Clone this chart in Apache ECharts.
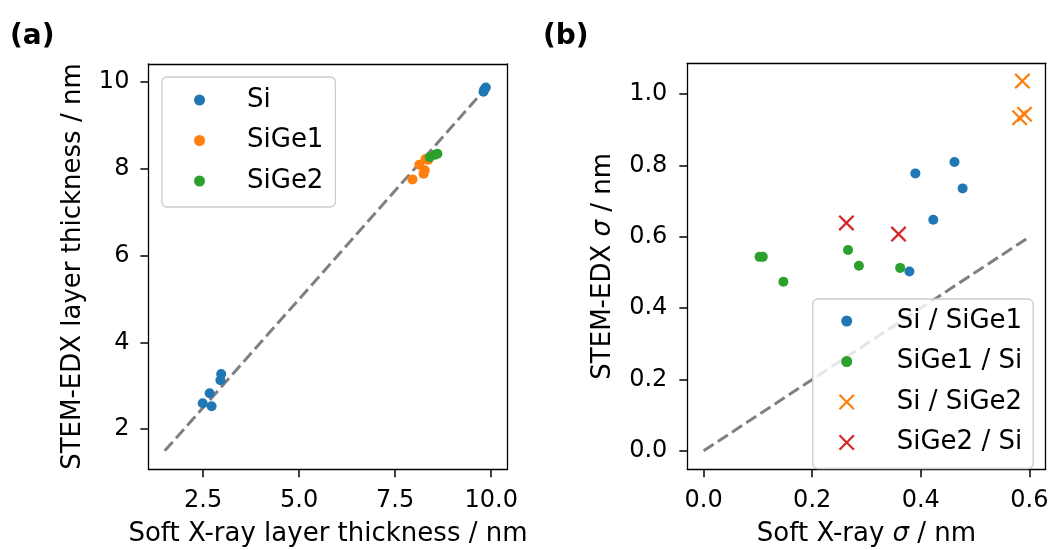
<!DOCTYPE html>
<html>
<head>
<meta charset="utf-8">
<script src="https://cdn.jsdelivr.net/npm/echarts@6/dist/echarts.min.js"></script>
<style>
  html, body { margin: 0; padding: 0; background: #fff; }
  #main { width: 1053px; height: 550px; }
</style>
</head>
<body>
<div id="main"></div>
<script>
var myChart = echarts.init(document.getElementById('main'), null, {renderer: 'canvas'});

// (a) layer thickness, [soft x-ray, stem-edx]
var siThick = [[2.49, 2.60], [2.67, 2.83], [2.72, 2.53], [2.97, 3.27], [2.95, 3.13],
               [9.80, 9.78], [9.82, 9.83], [9.86, 9.88]];
var sige1Thick = [[7.95, 7.76], [8.13, 8.10], [8.24, 7.89], [8.27, 7.97], [8.29, 8.23], [8.36, 8.21]];
var sige2Thick = [[8.40, 8.27], [8.54, 8.33], [8.60, 8.35]];
var diagA = [[1.5, 1.5], [10, 10]];

// (b) interface roughness sigma
var siSige1 = [[0.390, 0.778], [0.462, 0.810], [0.477, 0.736], [0.423, 0.648], [0.379, 0.503]];
var sige1Si = [[0.103, 0.544], [0.109, 0.544], [0.147, 0.474], [0.266, 0.563], [0.286, 0.519], [0.362, 0.513]];
var siSige2 = [[0.587, 1.037], [0.591, 0.944], [0.582, 0.934]];
var sige2Si = [[0.263, 0.639], [0.359, 0.608]];
var diagB = [[0, 0], [0.6, 0.6]];

var ticksAx = [2.5, 5.0, 7.5, 10.0];
var ticksAy = [2, 4, 6, 8, 10];
var ticksBx = [0.0, 0.2, 0.4, 0.6];
var ticksBy = [0.0, 0.2, 0.4, 0.6, 0.8, 1.0];

// axis limits (5% margins round the data)
var limA = [1.075, 10.425];
var limBx = [-0.03, 0.63];
var limBy = [-0.05175, 1.08675];

var FONT = 'DejaVu Sans';
var cross = 'path://M0,1L1,0L5,4L9,0L10,1L6,5L10,9L9,10L5,6L1,10L0,9L4,5Z';
var dotIcon = 'path://M0 0M16 16M2.5 8A5.5 5.5 0 1 1 13.5 8A5.5 5.5 0 1 1 2.5 8Z';

function valueAxis(gi, lim, ticks, digits, name, gap, labelMargin) {
    return {
        type: 'value',
        gridIndex: gi,
        min: lim[0],
        max: lim[1],
        name: name,
        nameLocation: 'middle',
        nameGap: gap,
        nameTextStyle: {
            fontFamily: FONT, fontSize: 26, color: '#000',
            rich: {i: {fontFamily: FONT, fontSize: 26, fontStyle: 'italic', color: '#000'}}
        },
        axisLine: {show: true, onZero: false, lineStyle: {color: '#000', width: 1.3}},
        axisTick: {show: true, inside: false, length: 8, customValues: ticks, lineStyle: {color: '#000', width: 1.5}},
        axisLabel: {
            customValues: ticks,
            fontFamily: FONT, fontSize: 24, color: '#000', margin: labelMargin,
            formatter: function (v) { return digits >= 0 ? Number(v).toFixed(digits) : String(v); }
        },
        splitLine: {show: false}
    };
}

// plain top / right spine
function frameAxis(gi, lim, pos) {
    return {
        type: 'value', gridIndex: gi, min: lim[0], max: lim[1], position: pos,
        axisLine: {show: true, onZero: false, lineStyle: {color: '#000', width: 1.3}},
        axisTick: {show: false}, axisLabel: {show: false}, splitLine: {show: false}
    };
}

function legendBox(left, top, padding, iw, names, textPad) {
    return {
        orient: 'vertical',
        left: left,
        top: top,
        padding: padding,
        itemGap: 14.5,
        itemWidth: iw,
        itemHeight: iw,
        data: names,
        borderColor: '#cccccc',
        borderWidth: 1.3,
        borderRadius: 5,
        backgroundColor: 'rgba(255,255,255,0.8)',
        formatter: function (n) { return '{n|' + n + '}'; },
        textStyle: {
            fontFamily: FONT, fontSize: 26, color: '#000',
            rich: {n: {fontFamily: FONT, fontSize: 26, color: '#000', lineHeight: 24, padding: [0, 0, 0, textPad]}}
        }
    };
}

function dashed(gi, data) {
    return {
        type: 'line', xAxisIndex: gi, yAxisIndex: gi, data: data,
        symbol: 'none', silent: true, z: 1,
        lineStyle: {color: '#808080', width: 3, type: [12, 5]}
    };
}

function scatter(gi, name, data, color, symbol, size) {
    return {
        type: 'scatter', name: name, xAxisIndex: gi, yAxisIndex: gi, data: data,
        symbol: symbol, symbolSize: size, z: 3,
        itemStyle: {color: color, opacity: 1}
    };
}

option = {
    animation: false,
    backgroundColor: '#fff',
    title: [
        {text: '(a)', left: 5, top: 18, textStyle: {fontFamily: FONT, fontSize: 28, fontWeight: 'bold', color: '#000'}},
        {text: '(b)', left: 538, top: 18, textStyle: {fontFamily: FONT, fontSize: 28, fontWeight: 'bold', color: '#000'}}
    ],
    grid: [
        {left: 148.4, right: 545.5, top: 63.8, bottom: 80.7, outerBoundsMode: 'none', containLabel: false, show: false},
        {left: 687.3, right: 7.3, top: 63.3, bottom: 80.7, outerBoundsMode: 'none', containLabel: false, show: false}
    ],
    xAxis: [
        valueAxis(0, limA, ticksAx, 1, 'Soft X-ray layer thickness / nm', 52, 19),
        valueAxis(1, limBx, ticksBx, 1, 'Soft X-ray {i|σ} / nm', 52, 19),
        frameAxis(0, limA, 'top'),
        frameAxis(1, limBx, 'top')
    ],
    yAxis: [
        valueAxis(0, limA, ticksAy, -1, 'STEM-EDX layer thickness / nm', 62, 19),
        valueAxis(1, limBy, ticksBy, 1, 'STEM-EDX {i|σ} / nm', 71, 20),
        frameAxis(0, limA, 'right'),
        frameAxis(1, limBy, 'right')
    ],
    legend: [
        legendBox(162, 77, [10, 12, 13, 32], 11, ['Si', 'SiGe1', 'SiGe2'], 37),
        legendBox(812.7, 299, [9, 11, 13, 26], 16, [
            {name: 'Si / SiGe1', icon: dotIcon},
            {name: 'SiGe1 / Si', icon: dotIcon},
            {name: 'Si / SiGe2'},
            {name: 'SiGe2 / Si'}
        ], 37)
    ],
    series: [
        dashed(0, diagA),
        scatter(0, 'Si', siThick, '#1f77b4', 'circle', 10),
        scatter(0, 'SiGe1', sige1Thick, '#ff7f0e', 'circle', 10),
        scatter(0, 'SiGe2', sige2Thick, '#2ca02c', 'circle', 10),
        dashed(1, diagB),
        scatter(1, 'Si / SiGe1', siSige1, '#1f77b4', 'circle', 10),
        scatter(1, 'SiGe1 / Si', sige1Si, '#2ca02c', 'circle', 10),
        scatter(1, 'Si / SiGe2', siSige2, '#ff7f0e', cross, 16),
        scatter(1, 'SiGe2 / Si', sige2Si, '#d62728', cross, 16)
    ]
};

myChart.setOption(option);
</script>
</body>
</html>
